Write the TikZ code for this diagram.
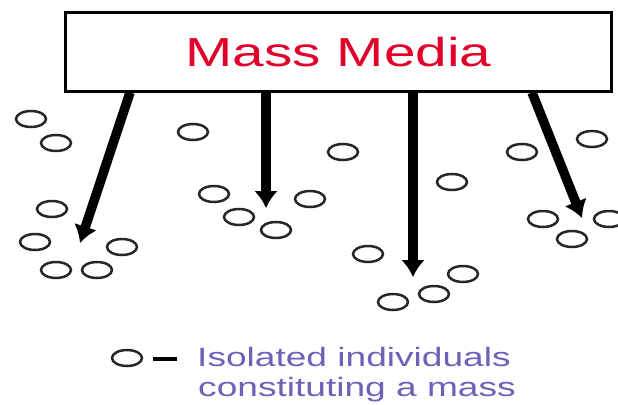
\documentclass[tikz,border=0pt]{standalone}
\usepackage{fontspec}
\usetikzlibrary{arrows.meta,shapes.geometric}
\newfontfamily\mediafont[FakeStretch=1.4]{Liberation Sans}
\definecolor{mediared}{RGB}{224,0,42}
\definecolor{legendblue}{RGB}{112,96,184}
\tikzset{
    person/.style={draw=black!85, ellipse, line width=2.5pt, minimum width=30pt, minimum height=16pt, inner sep=0pt},
    reach/.style={line width=9.5pt, -{Latex[length=17pt,width=24pt]}}
}
\begin{document}
\begin{tikzpicture}[
            x=1pt, y=-1pt,
            every node/.style={align=center}
        ]
            \useasboundingbox (0,0) rectangle (618,404);
            % the audience
            \foreach \px/\py [count=\i] in {31/119, 56/143, 193/132, 52/209, 35/242,
                122/247, 56/270, 97/270, 214/194, 239/217, 276/230, 310/199,
                343/152, 452/182, 368/254, 463/274, 434/294, 393/302,
                522/152, 592/139, 543/219, 572/239, 609/219}
                \node[person] (p\i) at (\px,\py) {};
            % the medium
            \node[draw, line width=3pt, fill=white, minimum width=546pt, minimum height=79pt,
                  text=mediared, font=\mediafont\fontsize{40.5}{48}\selectfont]
                (media) at (338.5,52) {Mass Media};
            \coordinate (s1) at (130,92.5);
            \coordinate (s2) at (266,92.5);
            \coordinate (s3) at (413,92.5);
            \coordinate (s4) at (532,92.5);
            \coordinate (t1) at (80,243);
            \coordinate (t2) at (266,208);
            \coordinate (t3) at (413,277);
            \coordinate (t4) at (582,218);
            \draw[reach] (s1) -- (t1);
            \draw[reach] (s2) -- (t2);
            \draw[reach] (s3) -- (t3);
            \draw[reach] (s4) -- (t4);
            % legend
            \node[person] (key) at (127,358) {};
            \coordinate (dasha) at (153,359);
            \coordinate (dashb) at (177,359);
            \draw[line width=3.5pt] (dasha) -- (dashb);
            \node[anchor=base west, inner sep=0pt, text=legendblue,
                  font=\mediafont\fontsize{26.5}{33}\selectfont]
                (keytext1) at (197,366) {Isolated individuals};
            \node[anchor=base west, inner sep=0pt, text=legendblue,
                  font=\mediafont\fontsize{26.5}{33}\selectfont]
                (keytext2) at (198,396) {constituting a mass};
        \end{tikzpicture}
\end{document}
